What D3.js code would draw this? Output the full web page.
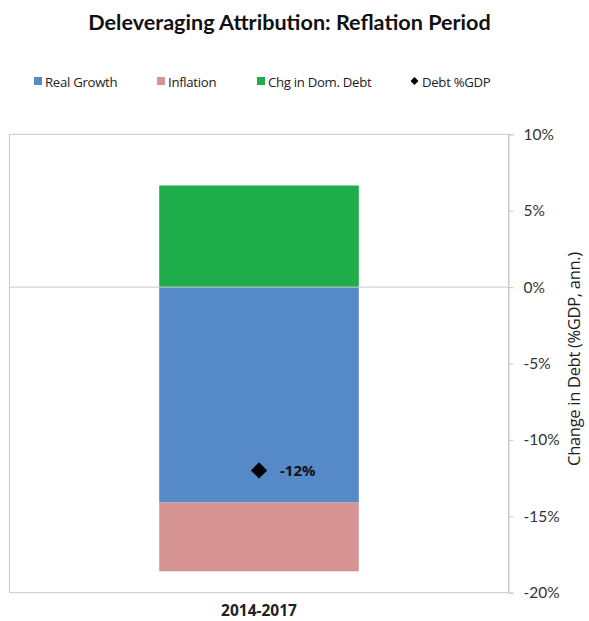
<!DOCTYPE html>
<html><head><meta charset="utf-8">
<script src="https://cdn.jsdelivr.net/npm/d3@7"></script>
<style>body{margin:0;background:#fff}svg{display:block}</style>
</head><body>
<svg id="c" width="589" height="621"></svg>
<script>
const categories = ["2014-2017"];
const seriesNames = ["Real Growth", "Inflation", "Chg in Dom. Debt"];
const realGrowth = [-14.1];
const inflation = [-4.5];
const chgDomDebt = [6.65];
const debtGDP = [-12];
const debtLabels = ["-12%"];
const yTicks = [10, 5, 0, -5, -10, -15, -20];
const colors = ["#5589C7", "#D69593", "#1FAD4B"];

const svg = d3.select("#c");
const L = 9.5, R = 508.5, T = 134.3, B = 592.7;
const y = d3.scaleLinear().domain([-20, 10]).range([B, T]);
const x = d3.scaleBand().domain(categories).range([L, R]).padding(0.4286);
const legFont = "Open Sans";

// plot frame
svg.append("rect").attr("x", L).attr("y", T).attr("width", R - L).attr("height", B - T)
  .attr("fill", "none").attr("stroke", "#c9c9c9").attr("stroke-width", 1);

// stacked bars
const series = [realGrowth, inflation, chgDomDebt];
categories.forEach((c, i) => {
  let pos = 0, neg = 0;
  series.forEach((s, k) => {
    const v = s[i];
    let y0, y1;
    if (v >= 0) { y0 = pos; y1 = pos + v; pos = y1; } else { y0 = neg; y1 = neg + v; neg = y1; }
    svg.append("rect").attr("x", x(c)).attr("width", x.bandwidth())
      .attr("y", y(Math.max(y0, y1))).attr("height", Math.abs(y(y0) - y(y1)))
      .attr("fill", colors[k]);
  });
});

// zero line
svg.append("line").attr("x1", L).attr("x2", R).attr("y1", y(0)).attr("y2", y(0))
  .attr("stroke", "#c9c9c9").attr("stroke-width", 1);

// right axis
const ax = svg.append("g").attr("transform", `translate(${R},0)`)
  .call(d3.axisRight(y).tickValues(yTicks).tickSize(5).tickPadding(10).tickFormat(d => d + "%"));
ax.select(".domain").attr("stroke", "#c9c9c9");
ax.selectAll(".tick line").attr("stroke", "#c9c9c9");
ax.selectAll("text").attr("font-family", "Lato").attr("font-size", 15.5).attr("fill", "#333");

// axis title
svg.append("text").attr("transform", `translate(580,359) rotate(-90)`)
  .attr("text-anchor", "middle").attr("font-family", legFont).attr("font-size", 16.5)
  .attr("letter-spacing", -0.3).attr("fill", "#222").text("Change in Debt (%GDP, ann.)");

// diamonds
categories.forEach((c, i) => {
  const cx = x(c) + x.bandwidth() / 2;
  svg.append("path").attr("d", d3.symbol(d3.symbolDiamond2, 170)())
    .attr("transform", `translate(${cx},${y(debtGDP[i])})`).attr("fill", "#000");
  svg.append("text").attr("x", cx + 21).attr("y", y(debtGDP[i]) + 5.5)
    .attr("font-family", "Open Sans").attr("font-weight", "bold").attr("font-size", 15)
    .attr("fill", "#111").text(debtLabels[i]);
  svg.append("text").attr("x", cx).attr("y", 616).attr("text-anchor", "middle")
    .attr("font-family", "Open Sans").attr("font-weight", "bold").attr("font-size", 15.5)
    .attr("fill", "#222").text(c);
});

// title
svg.append("text").attr("x", 289.5).attr("y", 30).attr("text-anchor", "middle")
  .attr("font-family", "Lato").attr("font-weight", "bold").attr("font-size", 21.6)
  .attr("fill", "#111").text("Deleveraging Attribution: Reflation Period");

// legend
const legX = [34, 157, 257];
seriesNames.forEach((n, k) => {
  svg.append("rect").attr("x", legX[k]).attr("y", 77).attr("width", 8).attr("height", 8).attr("fill", colors[k]);
  svg.append("text").attr("x", legX[k] + 11).attr("y", 86.5).attr("font-family", legFont)
    .attr("font-size", 13.2).attr("letter-spacing", -0.3).attr("fill", "#222").text(n);
});
svg.append("path").attr("d", d3.symbol(d3.symbolDiamond2, 40)()).attr("transform", "translate(414.5,81)").attr("fill", "#000");
svg.append("text").attr("x", 422).attr("y", 86.5).attr("font-family", legFont)
  .attr("font-size", 13.2).attr("letter-spacing", -0.3).attr("fill", "#222").text("Debt %GDP");
</script>
</body></html>
